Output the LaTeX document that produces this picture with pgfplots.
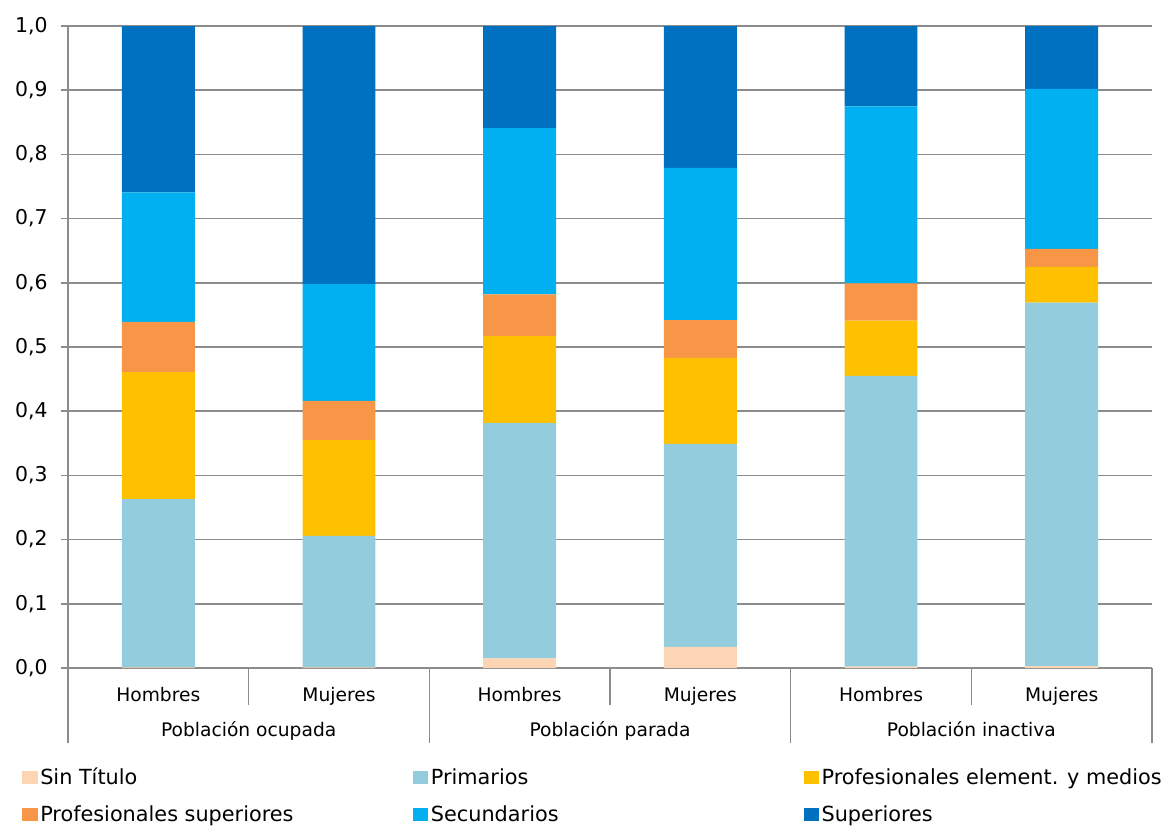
\documentclass[border=0pt]{standalone}
\usepackage{fontspec}
\setmainfont{DejaVu Sans}
\usepackage{pgfplots}
\usepackage{pgfplotstable}
\pgfplotsset{compat=1.18}
\definecolor{cST}{HTML}{FCD5B5}
\definecolor{cPr}{HTML}{93CDDD}
\definecolor{cPE}{HTML}{FFC000}
\definecolor{cPS}{HTML}{F79646}
\definecolor{cSe}{HTML}{00B0F0}
\definecolor{cSu}{HTML}{0070C0}
\definecolor{gridc}{HTML}{8C8C8C}

\pgfplotstableread{
x ST Pr PE PS Se Su
0 0.001 0.262 0.198 0.078 0.202 0.259
1 0.001 0.205 0.149 0.061 0.182 0.402
2 0.015 0.367 0.135 0.065 0.259 0.159
3 0.033 0.316 0.134 0.059 0.237 0.221
4 0.002 0.453 0.086 0.058 0.276 0.125
5 0.003 0.566 0.056 0.028 0.249 0.098
}\data

\begin{document}
\begin{tikzpicture}
\path[use as bounding box] (0pt,0pt) rectangle (879pt,-619.5pt);
\begin{axis}[
  at={(51pt,-501pt)}, anchor=south west,
  scale only axis, width=813pt, height=481.5pt,
  ybar stacked, bar width=0.404,
  xmin=-0.5, xmax=5.5, ymin=0, ymax=1,
  clip=false,
  axis x line*=bottom, axis y line*=left,
  axis line style={draw=gridc, line width=1.1pt, -},
  xtick={0,1,2,3,4,5},
  xticklabels={Hombres,Mujeres,Hombres,Mujeres,Hombres,Mujeres},
  xticklabel style={anchor=base, yshift=-19.5pt, font=\fontsize{14}{16}\selectfont},
  major x tick style={draw=none},
  ytick={0,0.1,0.2,0.3,0.4,0.5,0.6,0.7,0.8,0.9,1},
  yticklabel style={font=\fontsize{15.3}{18}\selectfont, xshift=-6.5pt,
    /pgf/number format/.cd, fixed, fixed zerofill, precision=1, use comma, assume math mode=true},
  tick align=outside, major tick length=5.25pt,
  major y tick style={draw=gridc, line width=1.1pt},
  ymajorgrids, grid style={draw=gridc, line width=1.1pt},
  legend image code/.code={\fill[#1] (0pt,-5pt) rectangle (11.5pt,5pt);},
  legend columns=3,
  legend cell align=left,
  legend style={at={(axis description cs:0,0)}, anchor=north west,
    xshift=-37.5pt, yshift=-71pt, draw=none, fill=none,
    font=\fontsize{15.6}{18}\selectfont, row sep=10pt,
    nodes={inner xsep=2pt}},
]
\addplot[fill=cST, draw=none] table[x=x, y=ST] {\data};
\addplot[fill=cPr, draw=none] table[x=x, y=Pr] {\data};
\addplot[fill=cPE, draw=none] table[x=x, y=PE] {\data};
\addplot[fill=cPS, draw=none] table[x=x, y=PS] {\data};
\addplot[fill=cSe, draw=none] table[x=x, y=Se] {\data};
\addplot[fill=cSu, draw=none] table[x=x, y=Su] {\data};
\legend{\makebox[277.5pt][l]{Sin Título},\makebox[277.5pt][l]{Primarios},Profesionales element. y medios,
  \makebox[277.5pt][l]{Profesionales superiores},\makebox[277.5pt][l]{Secundarios},Superiores}
\draw[gridc, line width=1.1pt] (axis cs:-0.5,0) -- ++(0pt,-56pt);
\draw[gridc, line width=1.1pt] (axis cs:1.5,0) -- ++(0pt,-56pt);
\draw[gridc, line width=1.1pt] (axis cs:3.5,0) -- ++(0pt,-56pt);
\draw[gridc, line width=1.1pt] (axis cs:5.5,0) -- ++(0pt,-56pt);
\draw[gridc, line width=1.1pt] (axis cs:0.5,0) -- ++(0pt,-28pt);
\draw[gridc, line width=1.1pt] (axis cs:2.5,0) -- ++(0pt,-28pt);
\draw[gridc, line width=1.1pt] (axis cs:4.5,0) -- ++(0pt,-28pt);
\node[font=\fontsize{14}{16}\selectfont, anchor=base] at ([yshift=-51pt]axis cs:0.5,0) {Población ocupada};
\node[font=\fontsize{14}{16}\selectfont, anchor=base] at ([yshift=-51pt]axis cs:2.5,0) {Población parada};
\node[font=\fontsize{14}{16}\selectfont, anchor=base] at ([yshift=-51pt]axis cs:4.5,0) {Población inactiva};
\end{axis}
\end{tikzpicture}
\end{document}
